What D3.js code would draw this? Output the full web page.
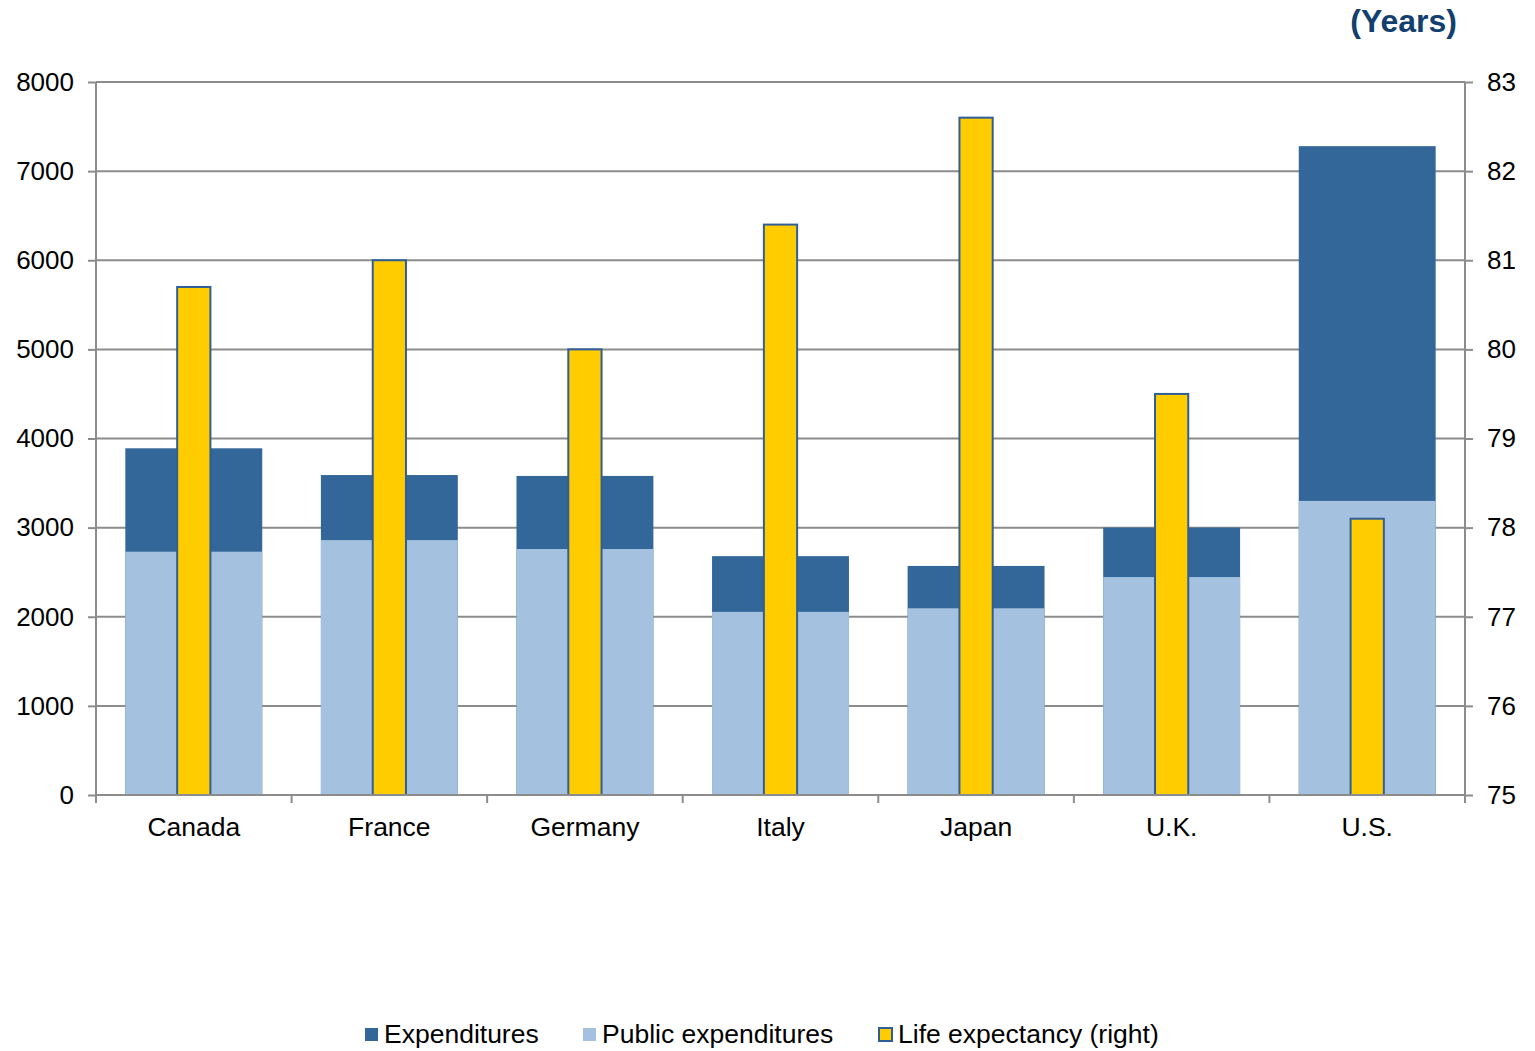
<!DOCTYPE html>
<html>
<head>
<meta charset="UTF-8">
<script src="https://cdn.jsdelivr.net/npm/d3@7"></script>
<style>
  body { margin: 0; background: #fff; }
  svg text { font-family: "Liberation Sans", Arial, sans-serif; fill: #000; }
</style>
</head>
<body>
<svg id="chart" width="1535" height="1051"></svg>
<script>
  // data
  var countries = ["Canada", "France", "Germany", "Italy", "Japan", "U.K.", "U.S."];
  var expenditures = [3890, 3590, 3580, 2680, 2570, 3000, 7280];
  var publicExp = [2730, 2860, 2760, 2055, 2095, 2445, 3300];
  var lifeExp = [80.7, 81.0, 80.0, 81.4, 82.6, 79.5, 78.1];
  var leftTicks = [0, 1000, 2000, 3000, 4000, 5000, 6000, 7000, 8000];
  var rightTicks = [75, 76, 77, 78, 79, 80, 81, 82, 83];

  var svg = d3.select("#chart");
  var plotL = 96, plotR = 1465, plotT = 82, plotB = 795;
  var gridColor = "#8c8c8c";

  var x = d3.scaleBand().domain(countries).range([plotL, plotR]).padding(0);
  var yL = d3.scaleLinear().domain([0, 8000]).range([plotB, plotT]);
  var yR = d3.scaleLinear().domain([75, 83]).range([plotB, plotT]);

  // gridlines
  svg.append("g").selectAll("line").data(leftTicks.slice(1)).enter().append("line")
    .attr("x1", plotL).attr("x2", plotR)
    .attr("y1", function(d){ return yL(d); }).attr("y2", function(d){ return yL(d); })
    .attr("stroke", gridColor).attr("stroke-width", 2);

  var bw = x.bandwidth() * 0.7;
  var yw = x.bandwidth() * 0.17;
  var rows = countries.map(function(c, i){
    return { c: c, tot: expenditures[i], pub: publicExp[i], life: lifeExp[i] };
  });

  var bars = svg.append("g");
  // total expenditures (dark)
  bars.selectAll(".tot").data(rows).enter().append("rect")
    .attr("x", function(d){ return x(d.c) + (x.bandwidth() - bw) / 2; })
    .attr("width", bw)
    .attr("y", function(d){ return yL(d.tot); })
    .attr("height", function(d){ return yL(0) - yL(d.tot); })
    .attr("fill", "#336699");
  // public expenditures (light)
  bars.selectAll(".pub").data(rows).enter().append("rect")
    .attr("x", function(d){ return x(d.c) + (x.bandwidth() - bw) / 2; })
    .attr("width", bw)
    .attr("y", function(d){ return yL(d.pub); })
    .attr("height", function(d){ return yL(0) - yL(d.pub); })
    .attr("fill", "#a4c2e0");
  // life expectancy (right axis)
  bars.selectAll(".life").data(rows).enter().append("rect")
    .attr("x", function(d){ return x(d.c) + (x.bandwidth() - yw) / 2; })
    .attr("width", yw)
    .attr("y", function(d){ return yR(d.life); })
    .attr("height", function(d){ return yR(75) - yR(d.life); })
    .attr("fill", "#ffcc00")
    .attr("stroke", "#2f5f96").attr("stroke-width", 2);

  // axes
  var axL = svg.append("g").attr("transform", "translate(" + plotL + ",0)")
    .call(d3.axisLeft(yL).tickValues(leftTicks).tickFormat(d3.format("d")).tickSize(8).tickPadding(14));
  var axR = svg.append("g").attr("transform", "translate(" + plotR + ",0)")
    .call(d3.axisRight(yR).tickValues(rightTicks).tickFormat(d3.format("d")).tickSize(8).tickPadding(14));
  var axB = svg.append("g").attr("transform", "translate(0," + plotB + ")")
    .call(d3.axisBottom(x).tickSize(0).tickPadding(22));
  // bottom ticks at band edges
  var edges = countries.map(function(c){ return x(c); }).concat([plotR]);
  svg.append("g").selectAll("line").data(edges).enter().append("line")
    .attr("x1", function(d){ return d; }).attr("x2", function(d){ return d; })
    .attr("y1", plotB).attr("y2", plotB + 8)
    .attr("stroke", gridColor).attr("stroke-width", 2);

  [axL, axR, axB].forEach(function(a){
    a.select(".domain").attr("stroke", gridColor).attr("stroke-width", 2);
    a.selectAll(".tick line").attr("stroke", gridColor).attr("stroke-width", 2);
    a.selectAll("text").attr("font-size", 26).attr("fill", "#000")
      .style("font-family", "'Liberation Sans', Arial, sans-serif");
  });
  axB.select(".domain").attr("d", "M" + plotL + ",0H" + plotR);
  axB.selectAll("text").attr("font-size", 26.5);
  axL.select(".domain").attr("d", "M0," + plotB + "V" + plotT);
  axR.select(".domain").attr("d", "M0," + plotB + "V" + plotT);

  // unit label
  svg.append("text").attr("x", 1457).attr("y", 32).attr("text-anchor", "end")
    .attr("font-size", 32).attr("font-weight", "bold").style("fill", "#123f6e")
    .text("(Years)");

  // legend
  var legend = [
    { t: "Expenditures", fill: "#336699", stroke: null, x: 365 },
    { t: "Public expenditures", fill: "#a4c2e0", stroke: null, x: 583 },
    { t: "Life expectancy (right)", fill: "#ffcc00", stroke: "#2f5f96", x: 879 }
  ];
  var lg = svg.append("g").selectAll("g").data(legend).enter().append("g")
    .attr("transform", function(d){ return "translate(" + d.x + ",1028)"; });
  lg.append("rect").attr("width", 13).attr("height", 13)
    .attr("fill", function(d){ return d.fill; })
    .attr("stroke", function(d){ return d.stroke || "none"; })
    .attr("stroke-width", 2);
  lg.append("text").attr("x", 19).attr("y", 15).attr("font-size", 26.5)
    .text(function(d){ return d.t; });
</script>
</body>
</html>
